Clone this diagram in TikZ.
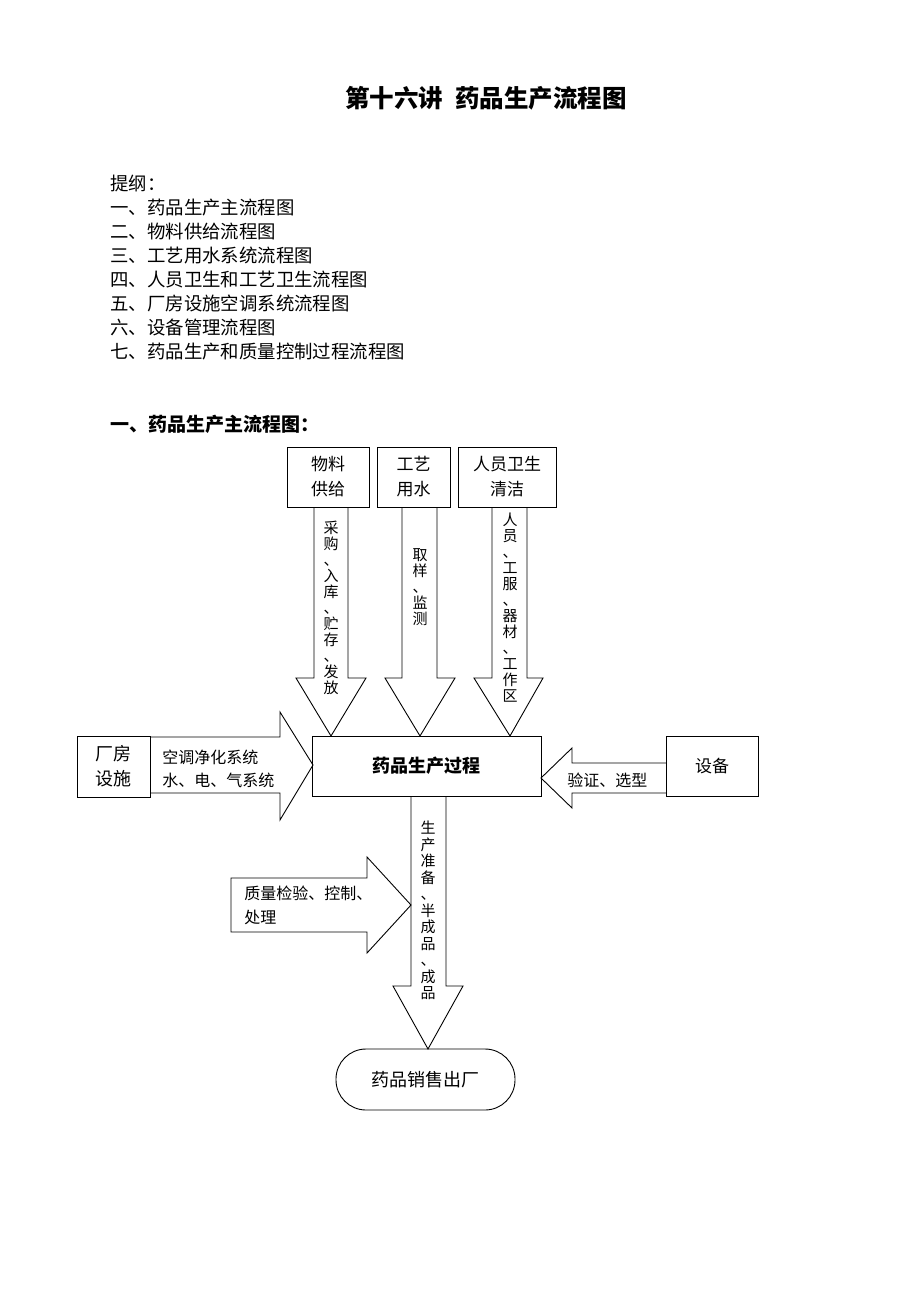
\documentclass[tikz,border=0pt]{standalone}
\usepackage{fontspec}
\setmainfont{Noto Sans CJK SC}
\begin{document}
\begin{tikzpicture}[x=1pt,y=-1pt,line width=0.9pt,
  box/.style={draw,rectangle,inner sep=0pt,align=center,font=\fontsize{17}{25}\selectfont},
  blockarrow/.style={draw,line join=miter},
  lbl/.style={inner sep=0pt,anchor=base west,font=\fontsize{16}{24}\selectfont},
  vlbl/.style={inner sep=0pt,align=center,font=\fontsize{15}{16}\selectfont},
  outline/.style={inner sep=0pt,anchor=base west,font=\fontsize{18.4}{24}\selectfont}]
\path[use as bounding box] (0,0) rectangle (920,1302);

% title and outline
\node[inner sep=0pt,anchor=base,font=\fontsize{24.5}{30}\selectfont\bfseries] (title) at (486,107) {第十六讲\hspace{0.5em}药品生产流程图};
\node[outline] (o0) at (110,190) {提纲：};
\node[outline] (o1) at (110,214) {一、药品生产主流程图};
\node[outline] (o2) at (110,238) {二、物料供给流程图};
\node[outline] (o3) at (110,262) {三、工艺用水系统流程图};
\node[outline] (o4) at (110,286) {四、人员卫生和工艺卫生流程图};
\node[outline] (o5) at (110,310) {五、厂房设施空调系统流程图};
\node[outline] (o6) at (110,334) {六、设备管理流程图};
\node[outline] (o7) at (110,358) {七、药品生产和质量控制过程流程图};
\node[inner sep=0pt,anchor=base west,font=\fontsize{19}{24}\selectfont\bfseries] (sec) at (110,431) {一、药品生产主流程图：};

% boxes
\node[box,minimum width=82pt,minimum height=60pt] (wl) at (328,477) {物料\\供给};
\node[box,minimum width=73pt,minimum height=60pt] (gy) at (413.5,477) {工艺\\用水};
\node[box,minimum width=98pt,minimum height=60pt] (ry) at (507,477) {人员卫生\\清洁};
\node[box,minimum width=229pt,minimum height=60pt,font=\fontsize{18}{24}\selectfont\bfseries] (main) at (426.5,766) {药品生产过程};
\node[box,minimum width=92pt,minimum height=60pt] (eq) at (712,766) {设备};
\node[box,minimum width=73pt,minimum height=61pt,font=\fontsize{18}{25}\selectfont] (cf) at (113.5,766.5) {厂房\\设施};
\node[box,minimum width=179pt,minimum height=61pt,rounded corners=30pt,font=\fontsize{18}{24}\selectfont] (sale) at (425.5,1079.5) {药品销售出厂};

% block arrows
\draw[blockarrow] (314,507) -- (314,678) -- (296,678) -- (331,736) -- (366,678) -- (348,678) -- (348,507);
\draw[blockarrow] (402,507) -- (402,678) -- (385,678) -- (420,736) -- (455,678) -- (437,678) -- (437,507);
\draw[blockarrow] (492,507) -- (492,678) -- (474,678) -- (510,736) -- (543,678) -- (527,678) -- (527,507);
\draw[blockarrow] (150,737) -- (280,737) -- (280,712) -- (313,765) -- (280,820) -- (280,793) -- (150,793);
\draw[blockarrow] (666,763) -- (572,763) -- (572,748) -- (541,778) -- (572,808) -- (572,793) -- (666,793);
\draw[blockarrow] (411,796) -- (411,986) -- (393,986) -- (428,1049) -- (463,986) -- (446,986) -- (446,796);
\draw[blockarrow] (231,878) -- (367,878) -- (367,857) -- (411,905) -- (367,953) -- (367,932) -- (231,932) -- cycle;

% arrow labels
\node[vlbl] (l1) at (331,607.5) {采\\购\\、\\入\\库\\、\\贮\\存\\、\\发\\放};
\node[vlbl] (l2) at (420,587) {取\\样\\、\\监\\测};
\node[vlbl] (l3) at (510,607.5) {人\\员\\、\\工\\服\\、\\器\\材\\、\\工\\作\\区};
\node[vlbl,font=\fontsize{15}{16.5}\selectfont] (l4) at (428,910.5) {生\\产\\准\\备\\、\\半\\成\\品\\、\\成\\品};
\node[lbl] (l5a) at (162,763) {空调净化系统};
\node[lbl] (l5b) at (162,786) {水、电、气系统};
\node[lbl] (l6) at (567,786) {验证、选型};
\node[lbl] (l7a) at (244,899) {质量检验、控制、};
\node[lbl] (l7b) at (244,923) {处理};
\end{tikzpicture}
\end{document}
